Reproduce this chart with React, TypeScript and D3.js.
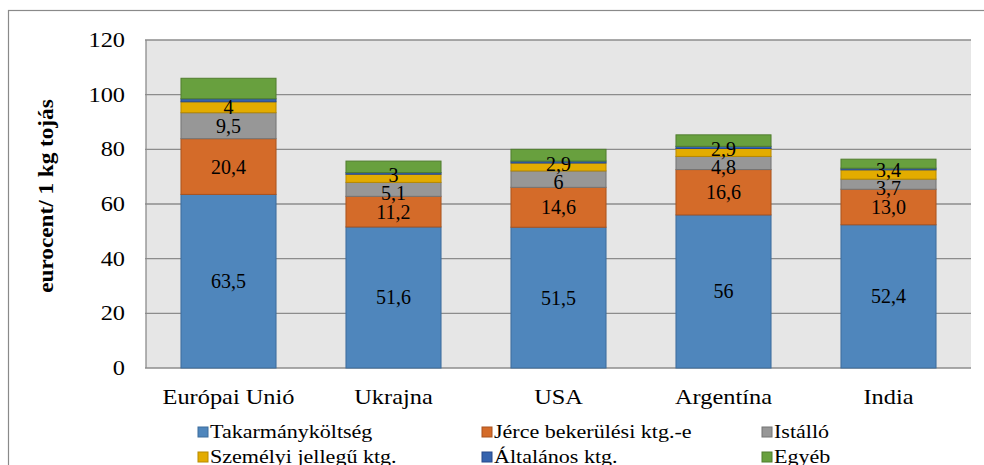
import React from "react";
import * as d3 from "d3";

const categories = ["Európai Unió", "Ukrajna", "USA", "Argentína", "India"];
const seriesNames = [
  "Takarmányköltség",
  "Jérce bekerülési ktg.-e",
  "Istálló",
  "Személyi jellegű ktg.",
  "Általános ktg.",
  "Egyéb",
];
const takarmany = [63.5, 51.6, 51.5, 56, 52.4];
const jerce = [20.4, 11.2, 14.6, 16.6, 13.0];
const istallo = [9.5, 5.1, 6, 4.8, 3.7];
const szemelyi = [4, 3, 2.9, 2.9, 3.4];
const altalanos = [1.1, 0.6, 0.7, 0.8, 0.6];
const egyeb = [7.5, 4.2, 4.3, 4.2, 3.3];
const labelText: (string | null)[][] = [
  ["63,5", "51,6", "51,5", "56", "52,4"],
  ["20,4", "11,2", "14,6", "16,6", "13,0"],
  ["9,5", "5,1", "6", "4,8", "3,7"],
  ["4", "3", "2,9", "2,9", "3,4"],
  [null, null, null, null, null],
  [null, null, null, null, null],
];
const yTicks = [0, 20, 40, 60, 80, 100, 120];

const fills = ["#4F86BC", "#D46B29", "#979797", "#E3AC00", "#3563AE", "#68A03E"];
const strokes = ["#3D6C9C", "#A9531E", "#747474", "#B88A00", "#27498A", "#507D2E"];

const W = 984;
const H = 465;
const plot = { left: 146, right: 971, top: 40, bottom: 368 };
const FONT = "'Liberation Serif', 'Times New Roman', serif";
const SX = 1.16;

function T(props: {
  x: number;
  y: number;
  size: number;
  anchor?: string;
  rotate?: number;
  bold?: boolean;
  children: React.ReactNode;
}) {
  const { x, y, size, anchor = "start", rotate = 0, bold = false, children } = props;
  return (
    <text
      transform={`translate(${x},${y}) rotate(${rotate}) scale(${SX},1)`}
      textAnchor={anchor}
      dominantBaseline="central"
      fontSize={size}
      fontWeight={bold ? "bold" : "normal"}
      fill="#000"
    >
      {children}
    </text>
  );
}

export default function App() {
  const series = [takarmany, jerce, istallo, szemelyi, altalanos, egyeb];
  const x = d3
    .scaleBand<string>()
    .domain(categories)
    .range([plot.left, plot.right])
    .paddingInner(0.424)
    .paddingOuter(0.212);
  const y = d3.scaleLinear().domain([0, 120]).range([plot.bottom, plot.top]);

  const table = categories.map((c, i) => {
    const row: any = { cat: c };
    series.forEach((s, k) => (row["s" + k] = s[i]));
    return row;
  });
  const keys = series.map((_, k) => "s" + k);
  const stacked = d3.stack().keys(keys)(table);

  const labels: { x: number; y: number; t: string }[] = [];
  categories.forEach((c, i) => {
    const ys: number[] = stacked.map((layer) => y((layer[i][0] + layer[i][1]) / 2));
    const g = ys[2];
    const yl = ys[3];
    const minGap = 18;
    if (g - yl < minGap) {
      const d = (minGap - (g - yl)) / 2;
      ys[2] = g + d;
      ys[3] = yl - d;
    }
    labelText.forEach((row, k) => {
      const t = row[i];
      if (t) labels.push({ x: x(c)! + x.bandwidth() / 2, y: ys[k], t });
    });
  });

  const legendCols = [198, 482, 762];
  const legendRows = [432, 457];

  return (
    <svg width={W} height={H} style={{ position: "absolute", left: 0, top: 0 }} fontFamily={FONT}>
      <rect x={0} y={0} width={W} height={H} fill="#fff" />
      <rect x={8.5} y={10.5} width={W + 10} height={H + 10} fill="none" stroke="#8a8a8a" strokeWidth={1.2} />
      <rect
        x={plot.left}
        y={plot.top}
        width={plot.right - plot.left}
        height={plot.bottom - plot.top}
        fill="#E6E6E6"
      />
      {yTicks.map((t) => (
        <line
          key={t}
          x1={plot.left - 1}
          x2={plot.right}
          y1={y(t)}
          y2={y(t)}
          stroke="#8c8c8c"
          strokeWidth={1.3}
        />
      ))}
      <line x1={plot.left} x2={plot.left} y1={plot.top} y2={plot.bottom} stroke="#8c8c8c" strokeWidth={1.3} />
      {stacked.map((layer, k) =>
        layer.map((d, i) => (
          <rect
            key={k + "-" + i}
            x={x(categories[i])!}
            y={y(d[1])}
            width={x.bandwidth()}
            height={y(d[0]) - y(d[1])}
            fill={fills[k]}
            stroke={strokes[k]}
            strokeWidth={1}
          />
        ))
      )}
      {labels.map((l, i) => (
        <text key={i} x={l.x} y={l.y} textAnchor="middle" dominantBaseline="central" fontSize={20} fill="#000">
          {l.t}
        </text>
      ))}
      {yTicks.map((t) => (
        <T key={t} x={125} y={y(t)} size={21} anchor="end">
          {t}
        </T>
      ))}
      {categories.map((c) => (
        <T key={c} x={x(c)! + x.bandwidth() / 2} y={397} size={21} anchor="middle">
          {c}
        </T>
      ))}
      <T x={47} y={196} size={20} anchor="middle" rotate={-90} bold>
        eurocent/ 1 kg tojás
      </T>
      {seriesNames.map((n, k) => {
        const cx = legendCols[k % 3];
        const cy = legendRows[Math.floor(k / 3)];
        return (
          <g key={n}>
            <rect x={cx} y={cy - 5} width={10} height={10} fill={fills[k]} stroke={strokes[k]} strokeWidth={1} />
            <T x={cx + 12} y={cy} size={19}>
              {n}
            </T>
          </g>
        );
      })}
    </svg>
  );
}
